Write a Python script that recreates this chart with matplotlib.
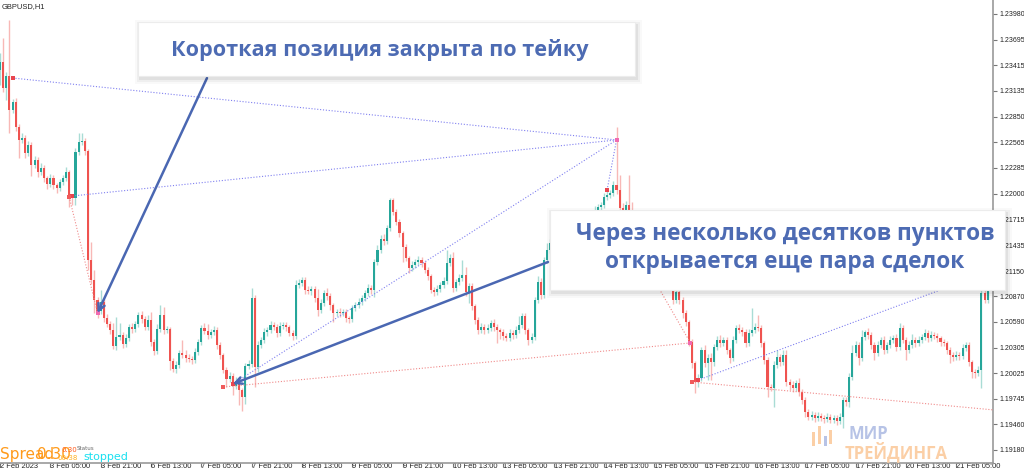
import matplotlib
matplotlib.use("Agg")
import matplotlib.pyplot as plt
from matplotlib.patches import Rectangle

# GBPUSD H1, 2 Feb 2023 13:00 ... 21 Feb 2023
first_open = 1.23363
closes = [
    1.23451, 1.23165, 1.23297, 1.22923, 1.23011, 1.22736, 1.22593, 1.22615, 1.22449, 1.22538,
    1.22317, 1.22372, 1.22240, 1.22284, 1.22174, 1.22108, 1.22174, 1.22097, 1.22064, 1.22130,
    1.22174, 1.22240, 1.21965, 1.21954, 1.22460, 1.22571, 1.22582, 1.22471, 1.21271, 1.21051,
    1.20831, 1.20710, 1.20809, 1.20633, 1.20567, 1.20501, 1.20325, 1.20424, 1.20446, 1.20347,
    1.20413, 1.20534, 1.20512, 1.20567, 1.20666, 1.20622, 1.20534, 1.20611, 1.20369, 1.20270,
    1.20512, 1.20666, 1.20501, 1.20512, 1.20159, 1.20071, 1.20115, 1.20247, 1.20225, 1.20192,
    1.20181, 1.20170, 1.20258, 1.20369, 1.20523, 1.20490, 1.20446, 1.20479, 1.20501, 1.20336,
    1.20225, 1.20060, 1.19961, 1.19994, 1.19884, 1.19939, 1.19840, 1.19763, 1.20104, 1.20126,
    1.20853, 1.20093, 1.20336, 1.20391, 1.20479, 1.20501, 1.20556, 1.20534, 1.20468, 1.20545,
    1.20556, 1.20534, 1.20468, 1.20435, 1.20996, 1.21018, 1.21051, 1.20941, 1.20930, 1.20952,
    1.20853, 1.20721, 1.20798, 1.20908, 1.20875, 1.20776, 1.20688, 1.20699, 1.20688, 1.20699,
    1.20633, 1.20622, 1.20743, 1.20776, 1.20809, 1.20853, 1.20908, 1.20963, 1.20941, 1.21249,
    1.21381, 1.21503, 1.21481, 1.21624, 1.21932, 1.21800, 1.21690, 1.21569, 1.21415, 1.21293,
    1.21183, 1.21216, 1.21249, 1.21271, 1.21238, 1.21161, 1.21095, 1.20941, 1.20919, 1.20952,
    1.20996, 1.21040, 1.21238, 1.21293, 1.20963, 1.21029, 1.21073, 1.21106, 1.20919, 1.20985,
    1.20765, 1.20611, 1.20501, 1.20534, 1.20501, 1.20523, 1.20578, 1.20534, 1.20501, 1.20479,
    1.20435, 1.20413, 1.20468, 1.20446, 1.20501, 1.20556, 1.20655, 1.20501, 1.20391, 1.20424,
    1.20831, 1.21029, 1.20886, 1.21271, 1.21381, 1.21459, 1.21404, 1.21492, 1.21547, 1.21514,
    1.21602, 1.21624, 1.21569, 1.21657, 1.21690, 1.21646, 1.21734, 1.21767, 1.21734, 1.21822,
    1.21855, 1.21877, 1.21965, 1.21987, 1.22009, 1.22097, 1.22042, 1.21844, 1.21767, 1.21877,
    1.21657, 1.21580, 1.21657, 1.21492, 1.21437, 1.21514, 1.21326, 1.21249, 1.21326, 1.21161,
    1.21106, 1.21183, 1.21029, 1.21018, 1.20831, 1.20919, 1.20831, 1.20688, 1.20589, 1.20369,
    1.20137, 1.19928, 1.19972, 1.20281, 1.20137, 1.20192, 1.20148, 1.20314, 1.20391, 1.20358,
    1.20391, 1.20281, 1.20192, 1.20391, 1.20523, 1.20501, 1.20479, 1.20358, 1.20468, 1.20501,
    1.20534, 1.20523, 1.20358, 1.20170, 1.19873, 1.19862, 1.20115, 1.20203, 1.20148, 1.20225,
    1.19928, 1.19895, 1.19862, 1.19917, 1.19818, 1.19730, 1.19598, 1.19543, 1.19565, 1.19532,
    1.19554, 1.19532, 1.19521, 1.19543, 1.19510, 1.19532, 1.19499, 1.19543, 1.19730, 1.19708,
    1.19983, 1.20247, 1.20336, 1.20192, 1.20424, 1.20479, 1.20446, 1.20336, 1.20247, 1.20336,
    1.20391, 1.20281, 1.20336, 1.20391, 1.20413, 1.20314, 1.20523, 1.20391, 1.20281, 1.20336,
    1.20391, 1.20358, 1.20391, 1.20424, 1.20468, 1.20413, 1.20446, 1.20435, 1.20413, 1.20369,
    1.20358, 1.20281, 1.20225, 1.20203, 1.20225, 1.20214, 1.20303, 1.20336, 1.20148, 1.20038,
    1.20027, 1.20060, 1.20908, 1.20831, 1.20996, 1.21106,
]
# wick lengths beyond the body, in pips
upper_wick = [
    10, 26, 4, 62, 3, 4, 3, 5, 3, 4, 3, 4, 3, 5, 3, 2, 4, 3, 2, 3,
    3, 5, 2, 3, 4, 10, 9, 3, 2, 20, 11, 3, 13, 3, 4, 3, 8, 22, 13, 3,
    4, 3, 4, 3, 3, 4, 3, 5, 9, 3, 5, 11, 9, 3, 2, 3, 4, 3, 14, 6,
    4, 3, 4, 3, 3, 5, 8, 3, 4, 3, 3, 2, 3, 4, 3, 4, 3, 2, 3, 4,
    11, 3, 4, 3, 4, 3, 4, 3, 3, 4, 3, 3, 2, 3, 5, 4, 3, 3, 4, 3,
    3, 10, 4, 3, 5, 3, 2, 3, 4, 3, 3, 2, 3, 3, 4, 3, 3, 4, 3, 3,
    6, 4, 5, 3, 2, 2, 3, 3, 2, 3, 2, 4, 3, 4, 3, 2, 3, 2, 3, 4,
    3, 4, 14, 4, 7, 3, 4, 17, 9, 3, 3, 2, 3, 4, 3, 4, 3, 4, 3, 2,
    3, 3, 4, 3, 4, 10, 3, 3, 2, 4, 3, 7, 4, 3, 8, 4, 3, 4, 3, 3,
    4, 3, 3, 4, 3, 3, 4, 3, 3, 4, 3, 3, 4, 5, 3, 4, 64, 17, 5, 4,
    33, 25, 4, 6, 3, 5, 3, 4, 4, 3, 3, 5, 3, 4, 3, 4, 5, 3, 3, 2,
    3, 2, 4, 3, 5, 4, 6, 3, 4, 5, 3, 3, 2, 4, 3, 4, 3, 3, 4, 24,
    4, 13, 3, 2, 3, 3, 4, 8, 3, 5, 5, 3, 4, 3, 6, 3, 3, 3, 4, 3,
    4, 3, 3, 4, 3, 3, 3, 4, 3, 3, 4, 9, 4, 3, 8, 2, 4, 3, 3, 4,
    3, 4, 3, 4, 3, 4, 6, 3, 3, 4, 6, 3, 4, 3, 4, 3, 4, 3, 3, 2,
    3, 2, 3, 3, 4, 3, 4, 3, 3, 2, 3, 4, 5, 12, 13, 8,
]
lower_wick = [
    16, 4, 13, 25, 3, 4, 20, 3, 5, 3, 12, 3, 5, 3, 4, 5, 3, 4, 6, 3,
    3, 3, 11, 8, 8, 3, 3, 4, 11, 4, 14, 8, 3, 4, 3, 4, 3, 4, 3, 5,
    3, 3, 4, 3, 3, 4, 3, 3, 4, 4, 3, 3, 4, 3, 10, 3, 4, 3, 3, 4,
    3, 4, 3, 3, 3, 3, 4, 3, 3, 5, 4, 3, 9, 3, 10, 3, 17, 15, 8, 3,
    3, 22, 5, 3, 3, 4, 3, 3, 4, 3, 3, 4, 3, 4, 3, 3, 3, 4, 3, 4,
    4, 7, 3, 3, 4, 5, 10, 3, 4, 3, 4, 4, 3, 3, 3, 3, 3, 3, 4, 8,
    3, 3, 4, 3, 3, 3, 3, 4, 17, 3, 5, 3, 3, 3, 4, 3, 4, 3, 4, 3,
    3, 3, 3, 3, 4, 3, 3, 3, 4, 12, 4, 5, 4, 3, 4, 3, 3, 4, 14, 8,
    4, 3, 3, 4, 3, 3, 3, 4, 6, 3, 3, 3, 4, 3, 3, 3, 4, 3, 3, 4,
    3, 3, 4, 3, 3, 4, 3, 3, 4, 3, 3, 3, 3, 3, 3, 3, 4, 4, 5, 3,
    4, 3, 3, 4, 5, 3, 4, 4, 3, 4, 5, 3, 4, 3, 4, 3, 4, 5, 4, 4,
    5, 12, 5, 3, 4, 19, 20, 4, 3, 4, 3, 4, 5, 3, 3, 3, 4, 4, 3, 3,
    3, 3, 4, 4, 11, 3, 21, 3, 4, 3, 4, 5, 4, 3, 4, 4, 5, 3, 3, 4,
    3, 3, 4, 3, 3, 3, 4, 3, 12, 4, 5, 3, 3, 8, 3, 3, 4, 4, 8, 3,
    3, 4, 3, 3, 3, 4, 3, 3, 11, 3, 3, 4, 3, 3, 3, 4, 3, 3, 4, 4,
    3, 4, 9, 4, 3, 4, 3, 3, 4, 7, 5, 3, 20, 3, 3, 3,
]

time_labels = ["2 Feb 2023", "3 Feb 05:00", "3 Feb 21:00", "6 Feb 13:00", "7 Feb 05:00",
               "7 Feb 21:00", "8 Feb 13:00", "9 Feb 05:00", "9 Feb 21:00", "10 Feb 13:00",
               "13 Feb 05:00", "13 Feb 21:00", "14 Feb 13:00", "15 Feb 05:00", "15 Feb 21:00",
               "16 Feb 13:00", "17 Feb 05:00", "17 Feb 21:00", "20 Feb 13:00", "21 Feb 05:00"]
price_ticks = [1.23980, 1.23695, 1.23415, 1.23135, 1.22850, 1.22565, 1.22285, 1.22000,
               1.21715, 1.21435, 1.21150, 1.20870, 1.20590, 1.20305, 1.20025, 1.19745,
               1.19460, 1.19180]

# trade lines: (open bar, open price, close bar, close price, kind)
trades = [
    (4, 1.23275, 196, 1.22593, "buy"),
    (23, 1.21976, 196, 1.22593, "buy"),
    (74, 1.19906, 196, 1.22593, "buy"),
    (193, 1.22042, 196, 1.22593, "buy"),
    (222, 1.19950, 316, 1.21161, "buy"),
    (22, 1.21965, 31, 1.20688, "sell"),
    (71, 1.19873, 219.5, 1.20358, "sell"),
    (208.7, 1.21007, 219.5, 1.20358, "sell"),
    (220, 1.19928, 316, 1.19620, "sell"),
]

RED, TEAL = "#ef5350", "#26a69a"
RED_W, TEAL_W = "#f8b8b6", "#a9dcd5"
ARROW = "#4a67b2"

fig = plt.figure(figsize=(10.24, 4.73), dpi=100)
ax = fig.add_axes([0, 10 / 473, 993 / 1024, 463 / 473])

n = len(closes)
x = list(range(n))
opens = [first_open] + closes[:-1]
for i in x:
    o, c = opens[i], closes[i]
    up = c >= o
    top, bot = max(o, c), min(o, c)
    ax.vlines(i, bot - lower_wick[i] / 10000, top + upper_wick[i] / 10000,
              color=TEAL_W if up else RED_W, lw=1.0, zorder=1)
    ax.bar(i, max(top - bot, 0.00004), bottom=bot, width=0.66,
           color=TEAL if up else RED, lw=0, zorder=2)

for ob, op, cb, cp, kind in trades:
    col = "#8080f0" if kind == "buy" else "#f08a8a"
    ax.plot([ob, cb], [op, cp], color=col, lw=0.8, ls=(0, (1, 1.6)), zorder=3)
    ax.plot([ob], [op], marker="s", ms=2.2, color="#e8454f" if kind == "buy" else "#f05a5a",
            mew=0, zorder=4)
ax.plot([196, 31, 219.5], [1.22593, 1.20688, 1.20358], "s", ms=2.2, color="#f06ab0",
        mew=0, zorder=4)

# arrows
ax.annotate("", xy=(31, 1.20688), xytext=(207, 473 - 78), textcoords="figure pixels",
            arrowprops=dict(arrowstyle="->", color=ARROW, lw=1.8, mutation_scale=12,
                            shrinkA=0, shrinkB=0), zorder=5)
ax.annotate("", xy=(74, 1.19906), xytext=(548, 473 - 262), textcoords="figure pixels",
            arrowprops=dict(arrowstyle="->", color=ARROW, lw=1.8, mutation_scale=12,
                            shrinkA=0, shrinkB=0), zorder=5)

ax.set_xlim(0, 315.68)
ax.set_ylim(1.19036, 1.24134)
ax.set_xticks(range(0, 16 * len(time_labels), 16))
ax.set_xticklabels(time_labels)
ax.yaxis.tick_right()
ax.set_yticks(price_ticks)
ax.set_yticklabels([f"{p:.5f}" for p in price_ticks])
tick_font = ["Liberation Sans", "DejaVu Sans"]
for lab in ax.get_xticklabels():
    lab.set_ha("left")
    lab.set_family(tick_font)
for lab in ax.get_yticklabels():
    lab.set_family(tick_font)
ax.tick_params(axis="x", length=3, width=0.8, color="#777777", labelsize=5.4, pad=-2.8,
               labelcolor="#222222")
ax.tick_params(axis="y", length=3, width=0.8, color="#777777", labelsize=5.0, pad=1.5,
               labelcolor="#222222")
for s in ("top", "left"):
    ax.spines[s].set_visible(False)
for s in ("right", "bottom"):
    ax.spines[s].set_color("#9a9a9a")
    ax.spines[s].set_linewidth(1.2)

fig.text(2 / 1024, 1 - 3 / 473, "GBPUSD,H1", fontsize=5.4, va="top", color="#222222",
         family=tick_font)

# bottom-left indicator texts (overlapping, as in the terminal)
fig.text(0, 1 - 459 / 473, "Spread", fontsize=11, color="#ff9a1a")
fig.text(37 / 1024, 1 - 459 / 473, "0.30", fontsize=11, color="#ff9a1a")
fig.text(62 / 1024, 1 - 452 / 473, "0.30", fontsize=5, color="#ff5a1a")
fig.text(57 / 1024, 1 - 460 / 473, "00:38", fontsize=5, color="#ffb020")
fig.text(77 / 1024, 1 - 450 / 473, "Status", fontsize=4, color="#666666")
fig.text(83 / 1024, 1 - 460 / 473, "stopped", fontsize=8, color="#19e0f0")


def callout(x0, y0, x1, y1):
    # box given in image pixels (top-left origin), with a soft drop shadow
    W, H = 1024, 473
    for k, a in ((5, 0.025), (3, 0.04), (1, 0.06)):
        fig.add_artist(Rectangle(((x0 - k + 2) / W, 1 - (y1 + k + 3) / H),
                                 (x1 - x0 + 2 * k) / W, (y1 - y0 + 2 * k) / H,
                                 transform=fig.transFigure, color="black", alpha=a,
                                 lw=0, zorder=10))
    fig.add_artist(Rectangle((x0 / W, 1 - y1 / H), (x1 - x0) / W, (y1 - y0) / H,
                             transform=fig.transFigure, facecolor="white",
                             edgecolor="#ececec", lw=0.8, zorder=11))


callout(138, 22, 635, 76)
callout(550, 210, 1005, 290)
box_font = dict(family=["Open Sans", "DejaVu Sans"], weight="bold", color="#4d6bb3",
                ha="center", va="center", zorder=12)
fig.text(380 / 1024, 1 - 50 / 473, "Короткая позиция закрыта по тейку", fontsize=15.6,
         **box_font)
fig.text(785 / 1024, 1 - 234 / 473, "Через несколько десятков пунктов", fontsize=16.3,
         **box_font)
fig.text(785 / 1024, 1 - 262 / 473, "открывается еще пара сделок", fontsize=16.3,
         **box_font)

# watermark logo
logo_font = dict(family=["Open Sans", "DejaVu Sans"], weight="bold", zorder=12)
fig.text(848 / 1024, 1 - 434 / 473, "МИР", fontsize=12, color="#b7c3e6", va="center",
         **logo_font)
fig.text(845 / 1024, 1 - 452 / 473, "ТРЕЙДИНГА", fontsize=12, color="#fbcfa6",
         va="center", **logo_font)
for bx, by, bh, col in ((812, 432, 14, "#fbcfa6"), (818, 426, 18, "#fbcfa6"),
                        (824, 436, 10, "#b7c3e6"), (829, 430, 14, "#fbcfa6")):
    fig.add_artist(Rectangle((bx / 1024, 1 - (by + bh) / 473), 3 / 1024, bh / 473,
                             transform=fig.transFigure, color=col, lw=0, zorder=12))

fig.savefig("out.png", dpi=100)
